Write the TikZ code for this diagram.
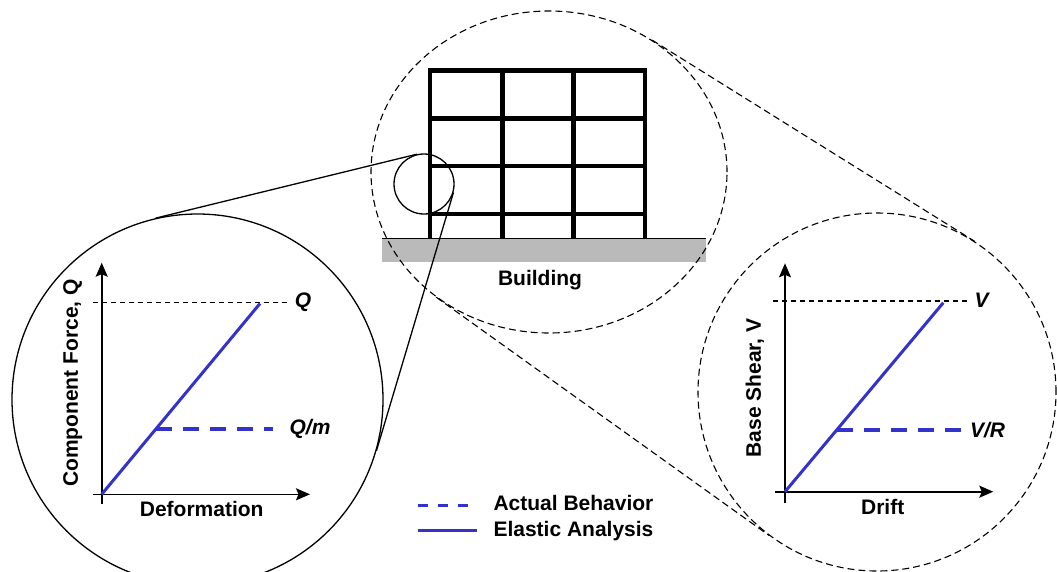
\documentclass[tikz,border=0pt]{standalone}
\usepackage{fontspec}
\setmainfont{Liberation Sans}
\usetikzlibrary{arrows.meta,shapes.geometric}
\definecolor{plotblue}{RGB}{51,51,204}
\definecolor{groundgray}{RGB}{186,186,186}

\begin{document}
\begin{tikzpicture}[x=1pt,y=-1pt,
  every node/.style={font=\fontsize{21}{25}\selectfont\bfseries, inner sep=0pt},
  axisline/.style={line width=1.6pt,-{Stealth[length=14pt,width=12pt,inset=2.5pt]}},
  refline/.style={line width=1.1pt, dash pattern=on 5pt off 4pt},
  elastic/.style={plotblue, line width=3pt},
  actual/.style={plotblue, line width=4pt, dash pattern=on 16pt off 11pt},
  zoomdash/.style={line width=1.1pt, dash pattern=on 7pt off 4pt},
  solidthin/.style={line width=1.3pt},
  member/.style={line width=4.5pt}]
\useasboundingbox (0,0) rectangle (1057,571);

% ground strip under the frame
\fill[groundgray] (382,238.3) rectangle (705.7,261.7);
\draw[line width=0.8pt] (382,238.3) -- (705.7,238.3);

% moment frame: 3 bays, 4 storeys
\draw[member, line join=miter] (430,238.3) -- (430,70.7) -- (645,70.7) -- (645,238.3);
\draw[member] (502.7,70.7) -- (502.7,238.3);
\draw[member] (573.3,70.7) -- (573.3,238.3);
\foreach \yy in {118.3,166,214} \draw[member] (430,\yy) -- (645,\yy);
\node[anchor=base] (bldlabel) at (540,285) {Building};

% magnifier outlines
\node[ellipse, draw, zoomdash, minimum width=356pt, minimum height=322pt] (bldview) at (549,172) {};
\node[circle, draw, zoomdash, minimum size=358pt] (global) at (877,392) {};
\node[circle, draw, solidthin, minimum size=60pt] (joint) at (424,184) {};
\node[circle, draw, solidthin, minimum size=371pt] (detail) at (197.5,399.5) {};

% tangent connectors between the magnifiers
\draw[solidthin] (joint.103.9) -- (detail.103.9);
\draw[solidthin] (joint.-16.8) -- (detail.-16.8);
\draw[zoomdash] (bldview.52.6) -- (global.57.4);
\draw[zoomdash] (bldview.228.8) -- (global.233.8);

% component force - deformation plot
\coordinate (o1) at (101.7,494.3);
\coordinate (q1) at (260,303.5);
\coordinate (m1) at (155.5,429.3);
\coordinate (m1e) at (272.7,429.3);
\draw[axisline] (93,494.3) -- (310,494.3);
\draw[axisline] (101.7,504) -- (101.7,262.7);
\draw[refline] (93,302.7) -- (288,302.7);
\draw[elastic] (o1) -- (q1);
\draw[actual] (m1) -- (m1e);
\node (qlab) at (303,302.7) {\itshape Q};
\node (qmlab) at (310,429.3) {\itshape Q/m};
\node[rotate=90] (ylab1) at (72.7,383) {Component Force, Q};
\node (xlab1) at (201.7,509.3) {Deformation};

% base shear - drift plot
\coordinate (o2) at (785,491.7);
\coordinate (v2) at (943.3,302.7);
\coordinate (r2) at (836.7,430);
\coordinate (r2e) at (968,430);
\draw[axisline] (775,491.7) -- (993.3,491.7);
\draw[axisline] (785,503) -- (785,263.3);
\draw[refline] (773,301) -- (968,301);
\draw[elastic] (o2) -- (v2);
\draw[actual] (r2) -- (r2e);
\node (vlab) at (981.7,300) {\itshape V};
\node (vrlab) at (987.5,430) {\itshape V/R};
\node[rotate=90] (ylab2) at (755,388) {Base Shear, V};
\node (xlab2) at (882.7,506.7) {Drift};

% legend
\coordinate (la) at (418,505);
\coordinate (lb) at (472,505);
\coordinate (lc) at (418,530);
\coordinate (ld) at (477,530);
\draw[plotblue, line width=3pt, dash pattern=on 10pt off 10pt] (la) -- (lb);
\draw[elastic] (lc) -- (ld);
\node[anchor=base west] (leg1) at (493.3,510.7) {Actual Behavior};
\node[anchor=base west] (leg2) at (493.3,536) {Elastic Analysis};
\end{tikzpicture}
\end{document}
